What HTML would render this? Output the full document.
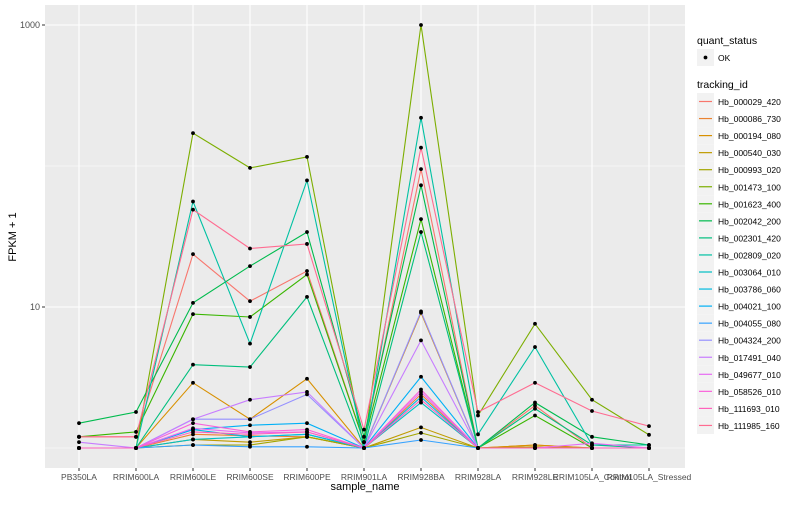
<!DOCTYPE html>
<html><head><meta charset="utf-8">
<style>
body{margin:0;background:#fff;font-family:"Liberation Sans",sans-serif;}
svg text{font-family:"Liberation Sans",sans-serif;}
</style></head>
<body>
<svg id="chart" width="800" height="500" xmlns="http://www.w3.org/2000/svg"></svg>
<script>
const categories=["PB350LA","RRIM600LA","RRIM600LE","RRIM600SE","RRIM600PE","RRIM901LA","RRIM928BA","RRIM928LA","RRIM928LE","RRIM105LA_Control","RRIM105LA_Stressed"];
const seriesNames=["Hb_000029_420","Hb_000086_730","Hb_000194_080","Hb_000540_030","Hb_000993_020","Hb_001473_100","Hb_001623_400","Hb_002042_200","Hb_002301_420","Hb_002809_020","Hb_003064_010","Hb_003786_060","Hb_004021_100","Hb_004055_080","Hb_004324_200","Hb_017491_040","Hb_049677_010","Hb_058526_010","Hb_111693_010","Hb_111985_160"];
const seriesColors=["#F8766D","#EA8331","#D89000","#C09B00","#A3A500","#7CAE00","#39B600","#00BB4E","#00BF7D","#00C1A3","#00BFC4","#00BAE0","#00B0F6","#35A2FF","#9590FF","#C77CFF","#E76BF3","#FA62DB","#FF62BC","#FF6C91"];
const s000029=[1.2,1.2,23.7,11,18,1.1,95,1.0,2.0,1.0,1.0];
const s000086=[1.0,1.0,1.25,1.22,1.2,1.0,2.4,1.0,1.05,1.0,1.0];
const s000194=[1.0,1.0,2.9,1.6,3.1,1.0,9.1,1.0,1.05,1.0,1.0];
const s000540=[1.0,1.0,1.15,1.1,1.2,1.0,1.4,1.0,1.02,1.0,1.0];
const s000993=[1.0,1.0,1.05,1.05,1.2,1.0,1.28,1.0,1.0,1.0,1.0];
const s001473=[1.0,1.0,171,97,116,1.0,1000,1.7,7.6,2.2,1.24];
const s001623=[1.2,1.3,8.9,8.5,17,1.1,42,1.0,1.7,1.0,1.0];
const s002042=[1.5,1.8,10.7,19.5,34,1.2,73,1.0,2.1,1.2,1.05];
const s002301=[1.0,1.0,3.9,3.75,11.8,1.0,34,1.0,1.9,1.05,1.0];
const s002809=[1.0,1.0,56,5.5,79,1.0,220,1.25,5.2,1.05,1.05];
const s003064=[1.0,1.0,1.15,1.2,1.25,1.0,2.1,1.0,1.0,1.0,1.0];
const s003786=[1.0,1.0,1.35,1.2,1.25,1.0,2.3,1.0,1.0,1.0,1.0];
const s004021=[1.0,1.0,1.35,1.45,1.5,1.0,3.2,1.0,1.0,1.0,1.0];
const s004055=[1.0,1.0,1.05,1.02,1.02,1.0,1.14,1.0,1.0,1.0,1.0];
const s004324=[1.0,1.0,1.6,1.6,2.4,1.0,9.3,1.0,1.0,1.0,1.0];
const s017491=[1.1,1.0,1.6,2.2,2.5,1.0,5.8,1.0,1.0,1.0,1.0];
const s049677=[1.0,1.0,1.38,1.28,1.3,1.0,2.5,1.0,1.0,1.08,1.0];
const s058526=[1.0,1.0,1.5,1.3,1.35,1.0,2.6,1.0,1.0,1.0,1.0];
const s111693=[1.0,1.0,1.3,1.25,1.3,1.0,2.2,1.0,1.0,1.0,1.0];
const s111985=[1.2,1.2,49,26,28,1.35,135,1.8,2.9,1.83,1.43];
const seriesValues=[s000029,s000086,s000194,s000540,s000993,s001473,s001623,s002042,s002301,s002809,s003064,s003786,s004021,s004055,s004324,s017491,s049677,s058526,s111693,s111985];
const yTickValues=[10,1000];
const yTickLabels=["10","1000"];
const yMinorValues=[1,100];

const NS="http://www.w3.org/2000/svg";
const svg=document.getElementById('chart');
function mk(tag,attrs,parent){const e=document.createElementNS(NS,tag);for(const k in attrs)e.setAttribute(k,attrs[k]);(parent||svg).appendChild(e);return e;}
const PL=45,PR=685,PT=5,PB=468;
function xPos(i){return 79+i*57;}
function yPos(v){return 448-141*Math.log10(v);}

const panel=mk('rect',{x:PL,y:PT,width:PR-PL,height:PB-PT,fill:'#ebebeb'});


yMinorValues.forEach(v=>{const l=mk('line',{x1:PL,x2:PR,y1:yPos(v),y2:yPos(v),stroke:'#fff','stroke-width':0.6});

});
yTickValues.forEach((v,i)=>{const y=yPos(v);
const l=mk('line',{x1:PL,x2:PR,y1:y,y2:y,stroke:'#fff','stroke-width':1.1});


mk('line',{x1:PL-3,x2:PL,y1:y,y2:y,stroke:'#333','stroke-width':1});
const t=mk('text',{x:PL-5,y:y+3,'text-anchor':'end','font-size':9,fill:'#4d4d4d'});t.textContent=yTickLabels[i];

});
categories.forEach((c,i)=>{const x=xPos(i);
const l=mk('line',{x1:x,x2:x,y1:PT,y2:PB,stroke:'#fff','stroke-width':1.1});


mk('line',{x1:x,x2:x,y1:PB,y2:PB+3,stroke:'#333','stroke-width':1});
const t=mk('text',{x:x,y:PB+12,'text-anchor':'middle','font-size':8.5,fill:'#4d4d4d'});t.textContent=c;

});
seriesValues.forEach((vals,si)=>{
const pts=vals.map((v,i)=>xPos(i).toFixed(1)+','+yPos(v).toFixed(1)).join(' ');
const pl=mk('polyline',{points:pts,fill:'none',stroke:seriesColors[si],'stroke-width':1.1});


});
seriesValues.forEach((vals,si)=>{vals.forEach((v,i)=>{
const p=mk('circle',{cx:xPos(i),cy:yPos(v),r:1.9,fill:'#000'});


});});
const xt=mk('text',{x:365,y:490,'text-anchor':'middle','font-size':11,fill:'#000'});xt.textContent='sample_name';


const yt=mk('text',{x:16,y:237,'text-anchor':'middle','font-size':11,fill:'#000',transform:'rotate(-90 16 237)'});yt.textContent='FPKM + 1';


// legend
const lt1=mk('text',{x:697,y:44,'font-size':10.5,fill:'#000'});lt1.textContent='quant_status';


mk('rect',{x:697,y:49,width:17,height:17,fill:'#f2f2f2'});
mk('circle',{cx:705.5,cy:57.5,r:1.9,fill:'#000'});
const ok=mk('text',{x:718,y:61,'font-size':8.5,fill:'#000'});ok.textContent='OK';


const lt2=mk('text',{x:697,y:88,'font-size':10.5,fill:'#000'});lt2.textContent='tracking_id';


seriesNames.forEach((n,i)=>{const y=93+i*17.05;
const g=mk('g',{});


mk('rect',{x:697,y:y,width:17,height:17,fill:'#f2f2f2'},g);
mk('line',{x1:699,x2:712,y1:y+8.5,y2:y+8.5,stroke:seriesColors[i],'stroke-width':1.2},g);
const t=mk('text',{x:718,y:y+12,'font-size':8.5,fill:'#000'},g);t.textContent=n;});
</script>
</body></html>
